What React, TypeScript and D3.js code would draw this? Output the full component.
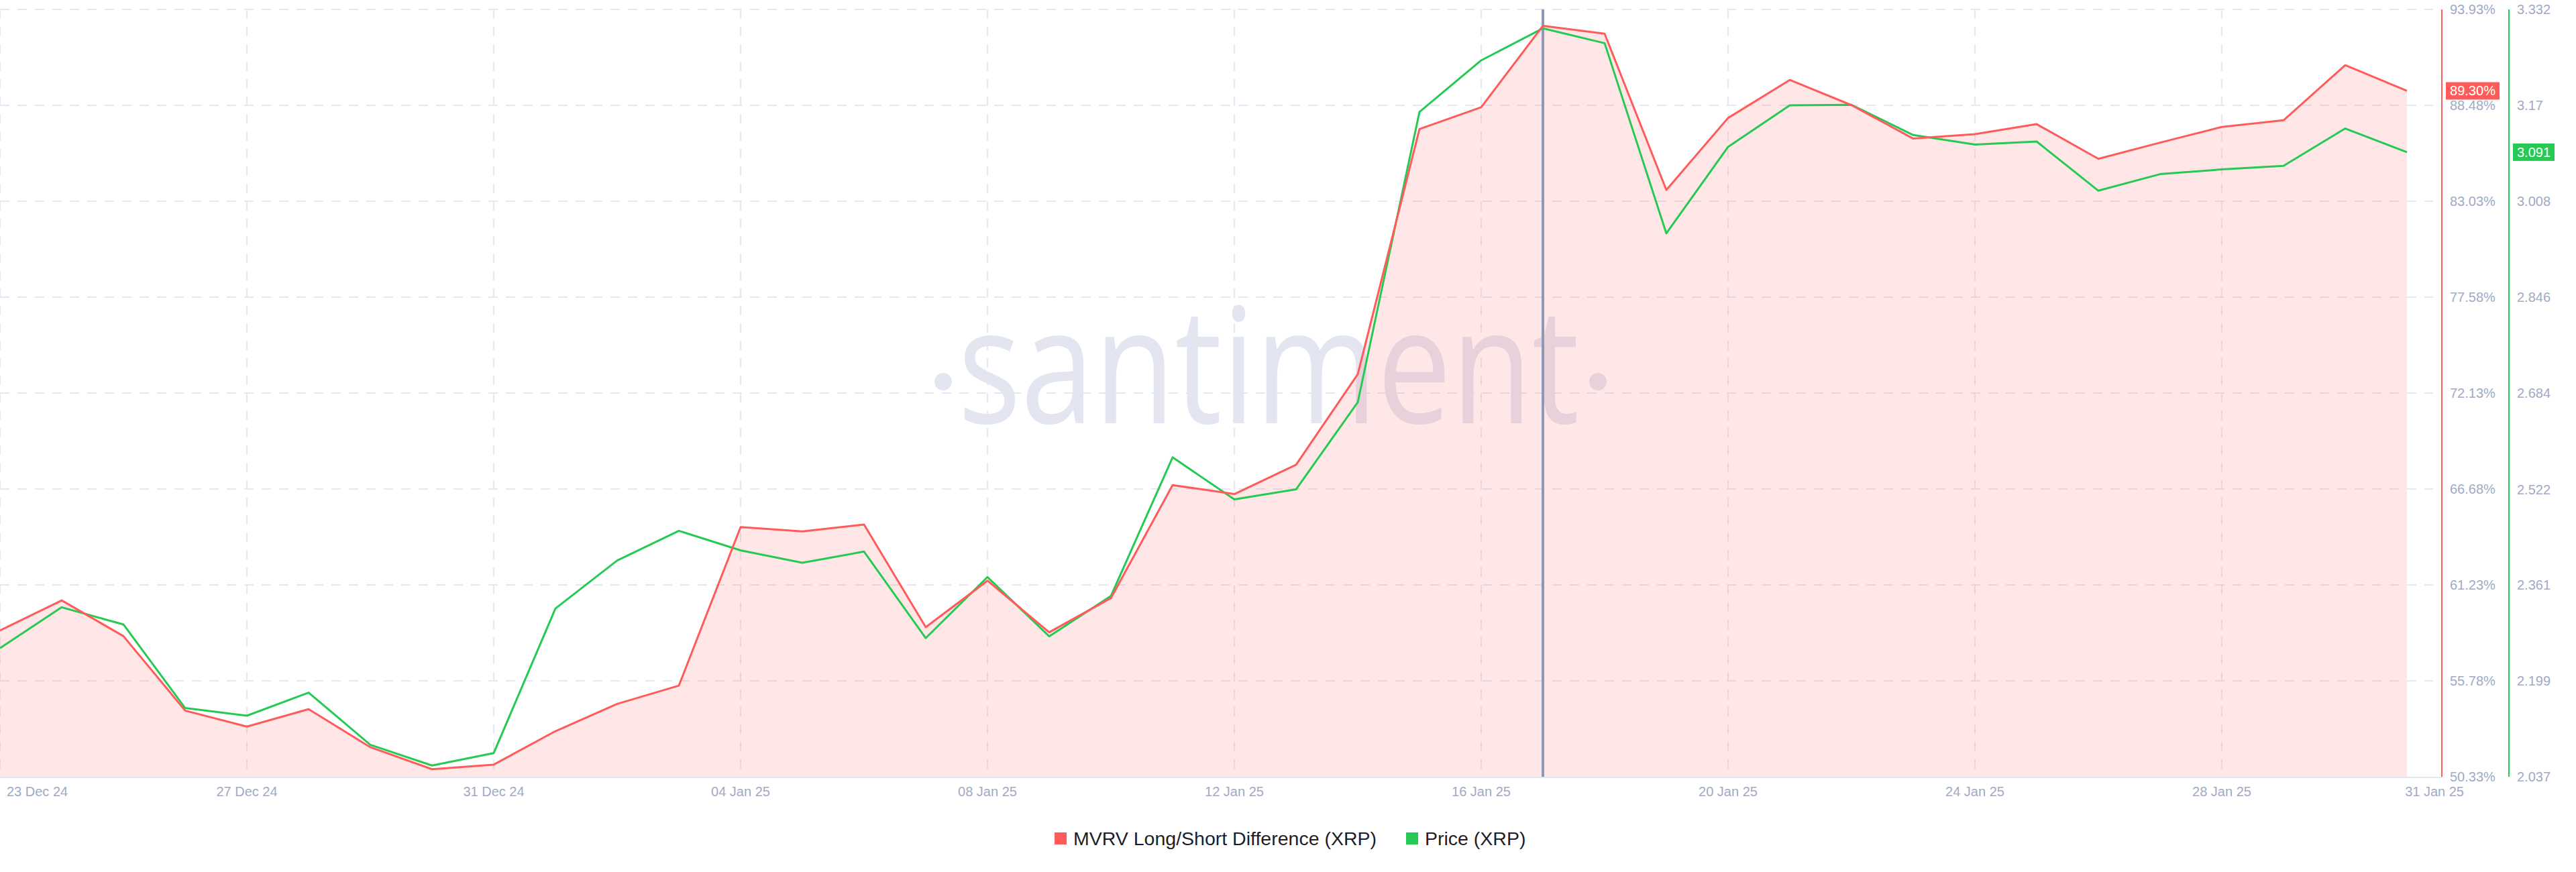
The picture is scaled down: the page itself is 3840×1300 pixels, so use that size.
import React from 'react';
import * as d3 from 'd3';

// daily points, 23 Dec 2024 .. 31 Jan 2025
const days = [
  '2024-12-23', '2024-12-24', '2024-12-25', '2024-12-26', '2024-12-27', '2024-12-28', '2024-12-29', '2024-12-30',
  '2024-12-31', '2025-01-01', '2025-01-02', '2025-01-03', '2025-01-04', '2025-01-05', '2025-01-06', '2025-01-07',
  '2025-01-08', '2025-01-09', '2025-01-10', '2025-01-11', '2025-01-12', '2025-01-13', '2025-01-14', '2025-01-15',
  '2025-01-16', '2025-01-17', '2025-01-18', '2025-01-19', '2025-01-20', '2025-01-21', '2025-01-22', '2025-01-23',
  '2025-01-24', '2025-01-25', '2025-01-26', '2025-01-27', '2025-01-28', '2025-01-29', '2025-01-30', '2025-01-31',
];

const mvrv = [
  58.64, 60.35, 58.32, 54.09, 53.18, 54.17, 52.01, 50.76,
  51.02, 52.92, 54.47, 55.51, 64.52, 64.27, 64.66, 58.83,
  61.47, 58.54, 60.48, 66.90, 66.39, 68.06, 73.20, 87.13,
  88.37, 93.00, 92.55, 83.67, 87.76, 89.92, 88.49, 86.59,
  86.84, 87.41, 85.44, 86.36, 87.25, 87.63, 90.76, 89.30,
];

const price = [
  2.254, 2.323, 2.294, 2.153, 2.140, 2.179, 2.091, 2.056,
  2.077, 2.321, 2.402, 2.452, 2.419, 2.398, 2.417, 2.271,
  2.374, 2.274, 2.342, 2.576, 2.505, 2.522, 2.669, 3.159,
  3.246, 3.300, 3.275, 2.954, 3.100, 3.170, 3.171, 3.120,
  3.104, 3.109, 3.026, 3.054, 3.062, 3.068, 3.131, 3.091,
];

const mvrvTicks = [50.33, 55.78, 61.23, 66.68, 72.13, 77.58, 83.03, 88.48, 93.93];
const priceTicks = ['2.037', '2.199', '2.361', '2.522', '2.684', '2.846', '3.008', '3.17', '3.332'];
const gridDays = ['2024-12-23', '2024-12-27', '2024-12-31', '2025-01-04', '2025-01-08', '2025-01-12', '2025-01-16', '2025-01-20', '2025-01-24', '2025-01-28'];
const dayLabels = ['23 Dec 24', '27 Dec 24', '31 Dec 24', '04 Jan 25', '08 Jan 25', '12 Jan 25', '16 Jan 25', '20 Jan 25', '24 Jan 25', '28 Jan 25'];
const lastLabel = '31 Jan 25';
const cursorDay = '2025-01-17';

const W = 3840;
const H = 1300;
const top = 14;
const bottom = 1158;
const plotRight = 3588;
const gridRight = 3627;
const redAxisX = 3640;
const greenAxisX = 3740;

const RED = '#ff5b5b';
const GREEN = '#26c953';
const GRID = '#e5e8f2';
const MUTED = '#9faac4';
const FONT = '"Liberation Sans", Arial, sans-serif';

const parse = d3.timeParse('%Y-%m-%d');

const App: React.FC = () => {
  const dates = days.map(d => parse(d)!);
  const x = d3.scaleTime().domain([dates[0], dates[dates.length - 1]]).range([0, plotRight]);
  const yR = d3.scaleLinear().domain([50.33, 93.93]).range([bottom, top]);
  const yG = d3.scaleLinear().domain([2.037, 3.332]).range([bottom, top]);

  const redLine = d3.line<number>().x((_, i) => x(dates[i])).y(d => yR(d))(mvrv)!;
  const redArea = d3.area<number>().x((_, i) => x(dates[i])).y0(bottom).y1(d => yR(d))(mvrv)!;
  const greenLine = d3.line<number>().x((_, i) => x(dates[i])).y(d => yG(d))(price)!;

  const lastR = mvrv[mvrv.length - 1];
  const lastG = price[price.length - 1];
  const cx = x(parse(cursorDay)!);

  return (
    <svg width={W} height={H} style={{ position: 'absolute', left: 0, top: 0, background: '#fff' }}>
      {/* grid */}
      <g stroke={GRID} strokeWidth={2} strokeDasharray="14 12">
        {mvrvTicks.slice(1).map(t => (
          <line key={t} x1={0} x2={gridRight} y1={yR(t)} y2={yR(t)} />
        ))}
        {gridDays.map(d => {
          const gx = x(parse(d)!);
          return <line key={d} x1={gx} x2={gx} y1={top} y2={bottom} />;
        })}
      </g>

      {/* watermark */}
      <g fill="#e3e6f1">
        <circle cx={1406} cy={569} r={13} />
        <text x={1428} y={631} fontFamily='"Open Sans", sans-serif' fontSize={240}
          textLength={926} lengthAdjust="spacingAndGlyphs">santiment</text>
        <circle cx={2382} cy={569} r={13} />
      </g>

      <path d={redArea} fill={RED} fillOpacity={0.15} />

      <line x1={cx} x2={cx} y1={top} y2={bottom} stroke="#9098b8" strokeWidth={4} />

      <path d={greenLine} fill="none" stroke={GREEN} strokeWidth={3} strokeLinejoin="round" />
      <path d={redLine} fill="none" stroke={RED} strokeWidth={3} strokeLinejoin="round" />

      {/* bottom axis */}
      <line x1={0} x2={redAxisX} y1={bottom + 1} y2={bottom + 1} stroke="#e3e6f0" strokeWidth={2} />
      <g fontFamily={FONT} fontSize={20} fill={MUTED}>
        {gridDays.map((d, i) => (
          <text key={d} x={i === 0 ? 10 : x(parse(d)!)} y={1187} textAnchor={i === 0 ? 'start' : 'middle'}>
            {dayLabels[i]}
          </text>
        ))}
        <text x={3673} y={1187} textAnchor="end">{lastLabel}</text>
      </g>

      {/* right axes */}
      <line x1={redAxisX} x2={redAxisX} y1={top} y2={bottom} stroke={RED} strokeWidth={2} />
      <line x1={greenAxisX} x2={greenAxisX} y1={top} y2={bottom} stroke={GREEN} strokeWidth={2} />
      <g fontFamily={FONT} fontSize={20} fill={MUTED} dominantBaseline="central">
        {mvrvTicks.map(t => (
          <text key={t} x={redAxisX + 12} y={yR(t)}>{t.toFixed(2)}%</text>
        ))}
        {priceTicks.map(t => (
          <text key={t} x={greenAxisX + 12} y={yG(+t)}>{t}</text>
        ))}
      </g>

      {/* last value badges */}
      <rect x={redAxisX + 6} y={yR(lastR) - 13} width={80} height={26} fill={RED} />
      <text x={redAxisX + 46} y={yR(lastR)} fontFamily={FONT} fontSize={20} fill="#fff"
        textAnchor="middle" dominantBaseline="central">{lastR.toFixed(2)}%</text>
      <rect x={greenAxisX + 6} y={yG(lastG) - 13} width={62} height={26} fill={GREEN} />
      <text x={greenAxisX + 37} y={yG(lastG)} fontFamily={FONT} fontSize={20} fill="#fff"
        textAnchor="middle" dominantBaseline="central">{lastG.toFixed(3)}</text>

      {/* legend */}
      <g fontFamily={FONT} fontSize={28.5} fill="#1b1e2a">
        <rect x={1572} y={1241} width={18} height={18} fill={RED} />
        <text x={1600} y={1250} dominantBaseline="central">MVRV Long/Short Difference (XRP)</text>
        <rect x={2096} y={1241} width={18} height={18} fill={GREEN} />
        <text x={2124} y={1250} dominantBaseline="central">Price (XRP)</text>
      </g>
    </svg>
  );
};

export default App;
